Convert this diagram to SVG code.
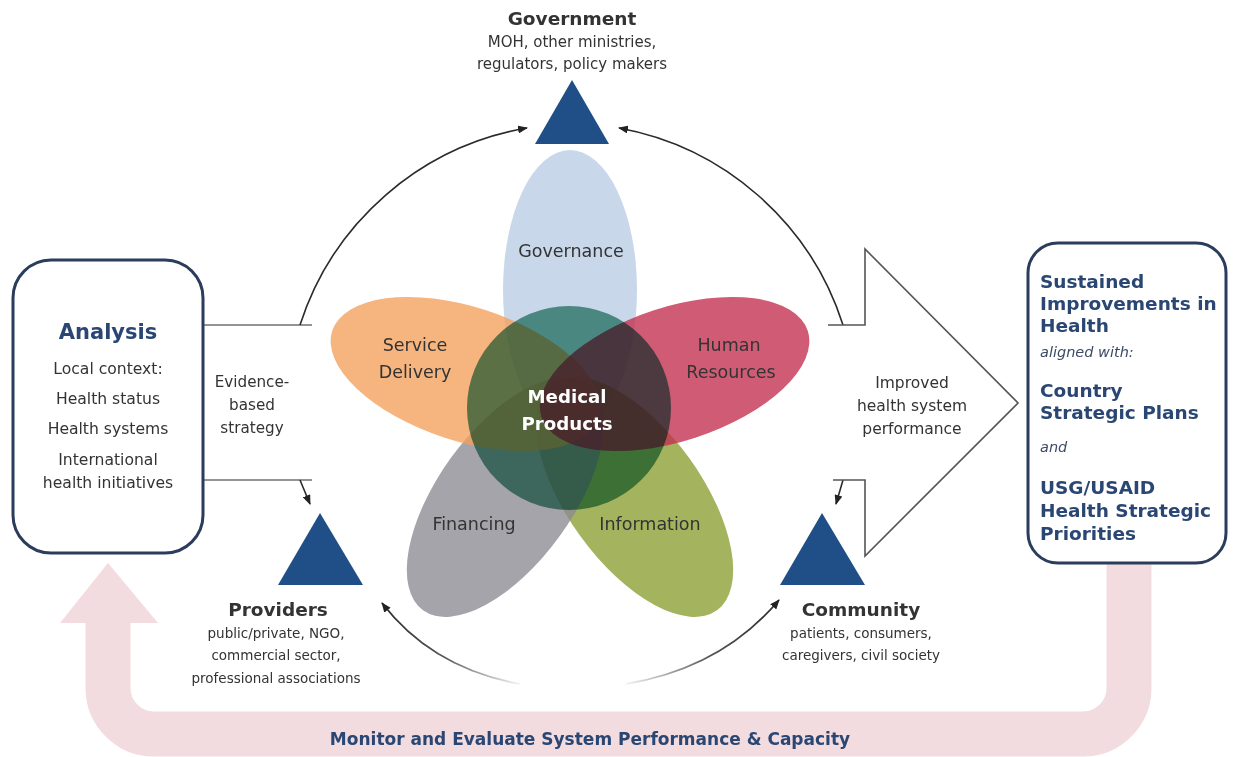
<svg xmlns="http://www.w3.org/2000/svg" width="1233" height="757" viewBox="0 0 1233 757">
<defs>
<style>
text{font-family:"DejaVu Sans","Liberation Sans",sans-serif;}
.navy{fill:#2a4673;font-weight:bold;}
.dark{fill:#333;}
.bold{font-weight:bold;}
.box{fill:#fff;stroke:#2b3d5c;stroke-width:3;}
.tri{fill:#1f4f86;}
.line{fill:none;stroke:#707070;stroke-width:1.6;}
.arc{fill:none;stroke:#2a2a2a;stroke-width:1.6;}
.petal{fill-opacity:0.78;}
.core{mix-blend-mode:multiply;}
</style>
<marker id="ah" viewBox="0 0 10 8" refX="9" refY="4" markerWidth="10" markerHeight="8" markerUnits="userSpaceOnUse" orient="auto">
<path d="M0,0 L10,4 L0,8 z" fill="#222"/>
</marker>
<linearGradient id="fadeL" gradientUnits="userSpaceOnUse" x1="520" y1="684" x2="382" y2="603">
<stop offset="0" stop-color="#2a2a2a" stop-opacity="0.05"/>
<stop offset="0.5" stop-color="#2a2a2a" stop-opacity="0.8"/>
<stop offset="1" stop-color="#2a2a2a" stop-opacity="1"/>
</linearGradient>
<linearGradient id="fadeR" gradientUnits="userSpaceOnUse" x1="626" y1="684" x2="779" y2="600">
<stop offset="0" stop-color="#2a2a2a" stop-opacity="0.05"/>
<stop offset="0.5" stop-color="#2a2a2a" stop-opacity="0.8"/>
<stop offset="1" stop-color="#2a2a2a" stop-opacity="1"/>
</linearGradient>
</defs>
<rect width="1233" height="757" fill="#fff"/>

<g id="feedback-loop">
<path d="M108 620 L108 688 A46 46 0 0 0 154 734 L1083 734 A46 46 0 0 0 1129 688 L1129 550" fill="none" stroke="#f3dcdf" stroke-width="45"/>
<polygon points="60,623 108,563 158,623" fill="#f3dcdf"/>
<text x="590" y="745" text-anchor="middle" class="navy" font-size="17">Monitor and Evaluate System Performance &amp; Capacity</text>
</g>

<g id="connectors">
<path class="line" d="M203 325 L312 325"/>
<path class="line" d="M203 480 L312 480"/>
<path class="arc" d="M300 325 A290 290 0 0 1 527 128" marker-end="url(#ah)"/>
<path class="arc" d="M843 325 A290 290 0 0 0 619 128" marker-end="url(#ah)"/>
<path class="arc" d="M300 480 L310 504" marker-end="url(#ah)"/>
<path class="arc" d="M843 480 L836 504" marker-end="url(#ah)"/>
<path d="M520 684 Q432 668 382 603" fill="none" stroke="url(#fadeL)" stroke-width="1.8" marker-end="url(#ah)"/>
<path d="M626 684 Q722 668 779 600" fill="none" stroke="url(#fadeR)" stroke-width="1.8" marker-end="url(#ah)"/>
</g>

<g id="improved-performance">
<polyline points="828,325 865,325 865,249 1018,403 865,556 865,480 833,480" fill="none" stroke="#555" stroke-width="1.6"/>
<text x="912" y="388" text-anchor="middle" class="dark" font-size="15.5">Improved</text>
<text x="912" y="411" text-anchor="middle" class="dark" font-size="15.5">health system</text>
<text x="912" y="434" text-anchor="middle" class="dark" font-size="15.5">performance</text>
</g>

<g id="analysis">
<rect class="box" x="13" y="260" width="190" height="293" rx="38"/>
<text x="108" y="339" text-anchor="middle" class="navy" font-size="21">Analysis</text>
<text x="108" y="374" text-anchor="middle" class="dark" font-size="15.6">Local context:</text>
<text x="108" y="404" text-anchor="middle" class="dark" font-size="15.6">Health status</text>
<text x="108" y="434" text-anchor="middle" class="dark" font-size="15.6">Health systems</text>
<text x="108" y="465" text-anchor="middle" class="dark" font-size="15.6">International</text>
<text x="108" y="488" text-anchor="middle" class="dark" font-size="15.6">health initiatives</text>
</g>

<g id="evidence">
<text x="252" y="387" text-anchor="middle" class="dark" font-size="15.2">Evidence-</text>
<text x="252" y="410" text-anchor="middle" class="dark" font-size="15.2">based</text>
<text x="252" y="433" text-anchor="middle" class="dark" font-size="15.2">strategy</text>
</g>

<g id="sustained">
<rect class="box" x="1028" y="243" width="198" height="320" rx="30"/>
<text x="1040" y="288" class="navy" font-size="18.5">Sustained</text>
<text x="1040" y="310" class="navy" font-size="18.5">Improvements in</text>
<text x="1040" y="332" class="navy" font-size="18.5">Health</text>
<text x="1040" y="357" fill="#3b4a66" font-size="14.5" font-style="italic">aligned with:</text>
<text x="1040" y="397" class="navy" font-size="18.5">Country</text>
<text x="1040" y="419" class="navy" font-size="18.5">Strategic Plans</text>
<text x="1040" y="452" fill="#3b4a66" font-size="14.5" font-style="italic">and</text>
<text x="1040" y="494" class="navy" font-size="18.5">USG/USAID</text>
<text x="1040" y="517" class="navy" font-size="18.5">Health Strategic</text>
<text x="1040" y="540" class="navy" font-size="18.5">Priorities</text>
</g>

<g id="government">
<polygon class="tri" points="572,80 535,144 609,144"/>
<text x="572" y="25" text-anchor="middle" class="dark bold" font-size="18.5">Government</text>
<text x="572" y="47" text-anchor="middle" class="dark" font-size="15">MOH, other ministries,</text>
<text x="572" y="69" text-anchor="middle" class="dark" font-size="15">regulators, policy makers</text>
</g>

<g id="providers">
<polygon class="tri" points="320,513 278,585 363,585"/>
<text x="278" y="616" text-anchor="middle" class="dark bold" font-size="18.5">Providers</text>
<text x="276" y="638" text-anchor="middle" class="dark" font-size="13.5">public/private, NGO,</text>
<text x="276" y="660" text-anchor="middle" class="dark" font-size="13.5">commercial sector,</text>
<text x="276" y="683" text-anchor="middle" class="dark" font-size="13.5">professional associations</text>
</g>

<g id="community">
<polygon class="tri" points="822,513 780,585 865,585"/>
<text x="861" y="616" text-anchor="middle" class="dark bold" font-size="18.5">Community</text>
<text x="861" y="638" text-anchor="middle" class="dark" font-size="13.5">patients, consumers,</text>
<text x="861" y="660" text-anchor="middle" class="dark" font-size="13.5">caregivers, civil society</text>
</g>

<g id="health-system-blocks">
<g id="governance"><ellipse class="petal" cx="0" cy="-118" rx="67" ry="140" fill="#b9cde4" transform="translate(570,408)"/></g>
<g id="information"><ellipse class="petal" cx="0" cy="-110" rx="67" ry="140" fill="#8a9e31" transform="translate(570,408) rotate(144)"/></g>
<g id="financing"><ellipse class="petal" cx="0" cy="-110" rx="67" ry="140" fill="#8b8a92" transform="translate(570,408) rotate(216)"/></g>
<g id="service-delivery"><ellipse class="petal" cx="0" cy="-110" rx="67" ry="140" fill="#f39f5a" transform="translate(570,408) rotate(288)"/></g>
<g id="human-resources"><ellipse class="petal" cx="0" cy="-110" rx="67" ry="140" fill="#c22e4d" transform="translate(570,408) rotate(72)"/></g>
<g id="medical-products"><circle class="core" cx="569" cy="408" r="102" fill="#5e9f8c"/></g>
<text x="571" y="257" text-anchor="middle" class="dark" font-size="17.5">Governance</text>
<text x="415" y="351" text-anchor="middle" class="dark" font-size="17.5">Service</text>
<text x="415" y="378" text-anchor="middle" class="dark" font-size="17.5">Delivery</text>
<text x="729" y="351" text-anchor="middle" class="dark" font-size="17.5">Human</text>
<text x="731" y="378" text-anchor="middle" class="dark" font-size="17.5">Resources</text>
<text x="474" y="530" text-anchor="middle" class="dark" font-size="17.5">Financing</text>
<text x="650" y="530" text-anchor="middle" class="dark" font-size="17.5">Information</text>
<text x="567" y="403" text-anchor="middle" fill="#fff" class="bold" font-size="18.2">Medical</text>
<text x="567" y="430" text-anchor="middle" fill="#fff" class="bold" font-size="18.2">Products</text>
</g>
</svg>
